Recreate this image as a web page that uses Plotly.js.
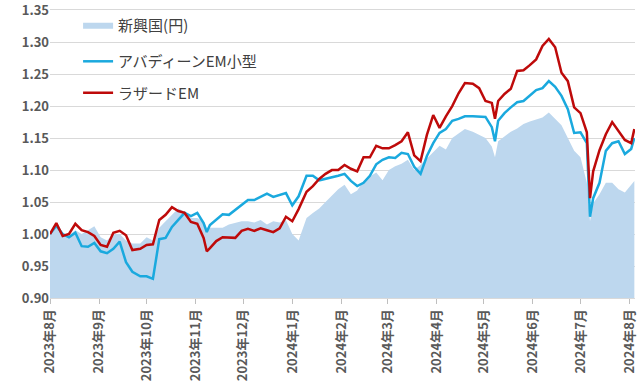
<!DOCTYPE html>
<html>
<head>
<meta charset="utf-8">
<script src="https://cdn.plot.ly/plotly-3.0.1.min.js"></script>
<style>html,body{margin:0;padding:0;background:#fff;}#chart{width:640px;height:390px;}</style>
</head>
<body>
<div id="chart"></div>
<script>
const dates = [
"2023-08-01","2023-08-05","2023-08-09","2023-08-13","2023-08-17","2023-08-21","2023-08-25","2023-08-29",
"2023-09-02","2023-09-06","2023-09-10","2023-09-14","2023-09-18","2023-09-22","2023-09-27","2023-10-01",
"2023-10-05","2023-10-09","2023-10-13","2023-10-17","2023-10-21","2023-10-25","2023-10-29",
"2023-11-02","2023-11-06","2023-11-08","2023-11-10","2023-11-14","2023-11-18","2023-11-22","2023-11-26","2023-11-30",
"2023-12-04","2023-12-08","2023-12-12","2023-12-16","2023-12-20","2023-12-24","2023-12-28","2024-01-01",
"2024-01-05","2024-01-10","2024-01-14","2024-01-18","2024-01-22","2024-01-26","2024-01-30",
"2024-02-03","2024-02-07","2024-02-11","2024-02-15","2024-02-19","2024-02-23","2024-02-27","2024-03-02",
"2024-03-06","2024-03-10","2024-03-14","2024-03-18","2024-03-22","2024-03-26","2024-03-30",
"2024-04-03","2024-04-07","2024-04-11","2024-04-15","2024-04-19","2024-04-24","2024-04-28","2024-05-02",
"2024-05-06","2024-05-08","2024-05-10","2024-05-14","2024-05-18","2024-05-22","2024-05-26","2024-05-30","2024-06-03",
"2024-06-07","2024-06-11","2024-06-15","2024-06-19","2024-06-23","2024-06-27","2024-07-01",
"2024-07-05","2024-07-07","2024-07-09","2024-07-13","2024-07-17","2024-07-21","2024-07-25","2024-07-29","2024-08-02",
"2024-08-04"
];

const emergingYen = [
1.000,1.012,1.000,0.998,1.006,1.000,1.006,1.012,
0.995,0.990,1.000,1.000,0.990,0.985,0.985,0.995,
0.990,1.010,1.020,1.030,1.040,1.035,1.025,
1.025,1.020,1.010,1.010,1.010,1.010,1.015,1.018,1.020,
1.020,1.018,1.022,1.015,1.020,1.018,1.022,1.000,
0.990,1.025,1.033,1.040,1.050,1.060,1.070,
1.077,1.062,1.068,1.083,1.090,1.096,1.084,1.100,
1.106,1.110,1.116,1.100,1.108,1.118,1.127,
1.138,1.132,1.150,1.157,1.164,1.160,1.155,1.150,
1.137,1.120,1.145,1.153,1.160,1.165,1.172,1.176,1.179,
1.182,1.190,1.180,1.170,1.150,1.130,1.120,
1.080,1.020,1.048,1.062,1.080,1.080,1.070,1.065,1.078,
1.083
];

const aberdeenEMSmall = [
1.000,1.013,1.000,0.995,1.002,0.981,0.980,0.986,
0.973,0.970,0.977,0.988,0.956,0.941,0.934,0.934,
0.930,0.992,0.994,1.011,1.022,1.033,1.028,
1.033,1.017,1.003,1.014,1.023,1.031,1.030,1.038,1.045,
1.053,1.053,1.058,1.063,1.058,1.061,1.064,1.045,
1.059,1.091,1.091,1.084,1.086,1.089,1.091,
1.094,1.083,1.075,1.080,1.091,1.109,1.116,1.120,
1.119,1.127,1.125,1.105,1.094,1.122,1.142,
1.158,1.164,1.177,1.180,1.184,1.184,1.184,1.183,
1.167,1.145,1.177,1.189,1.198,1.206,1.208,1.217,1.225,
1.228,1.239,1.230,1.216,1.195,1.158,1.159,
1.142,1.027,1.056,1.080,1.130,1.142,1.145,1.125,1.133,
1.150
];

const lazardEM = [
1.000,1.017,0.997,1.000,1.016,1.006,1.003,0.997,
0.983,0.980,1.002,1.005,0.998,0.975,0.977,0.983,
0.984,1.022,1.030,1.042,1.036,1.033,1.019,
1.016,0.994,0.973,0.978,0.989,0.995,0.994,0.994,1.005,
1.008,1.005,1.009,1.006,1.003,1.009,1.027,1.020,
1.039,1.066,1.075,1.086,1.094,1.100,1.100,
1.108,1.102,1.098,1.120,1.120,1.138,1.134,1.134,
1.139,1.145,1.159,1.123,1.114,1.155,1.186,
1.166,1.184,1.200,1.220,1.236,1.235,1.228,1.208,
1.205,1.180,1.208,1.219,1.227,1.255,1.256,1.264,1.273,
1.294,1.305,1.292,1.252,1.239,1.198,1.189,
1.159,1.056,1.098,1.131,1.156,1.175,1.161,1.147,1.142,
1.164
];

const seriesNames = ["新興国(円)", "アバディーンEM小型", "ラザードEM"];

const monthTicks = ["2023-08-01","2023-09-01","2023-10-01","2023-11-01","2023-12-01","2024-01-01",
  "2024-02-01","2024-03-01","2024-04-01","2024-05-01","2024-06-01","2024-07-01","2024-08-01"];
const monthLabels = ["2023年8月","2023年9月","2023年10月","2023年11月","2023年12月","2024年1月",
  "2024年2月","2024年3月","2024年4月","2024年5月","2024年6月","2024年7月","2024年8月"];
const yTicks = [0.90, 0.95, 1.00, 1.05, 1.10, 1.15, 1.20, 1.25, 1.30, 1.35];

const FONT = '"Noto Sans CJK JP", "Noto Sans", sans-serif';

const traces = [
  {x: dates, y: emergingYen, name: seriesNames[0], type: 'scatter', mode: 'lines',
   fill: 'tozeroy', fillcolor: '#BDD7EE', line: {width: 0, color: '#BDD7EE'}, legend: 'legend'},
  {x: dates, y: aberdeenEMSmall, name: seriesNames[1], type: 'scatter', mode: 'lines',
   line: {width: 2.5, color: '#1AA9DE'}, legend: 'legend2'},
  {x: dates, y: lazardEM, name: seriesNames[2], type: 'scatter', mode: 'lines',
   line: {width: 2.5, color: '#BE0A0A'}, legend: 'legend3'}
];

const legBase = {xanchor: 'left', yanchor: 'middle', bgcolor: 'rgba(0,0,0,0)',
  font: {family: FONT, size: 15, color: '#404040'}};

const layout = {
  width: 640, height: 390,
  margin: {l: 50, r: 5, t: 10, b: 92},
  paper_bgcolor: '#fff', plot_bgcolor: '#fff',
  font: {family: FONT, color: '#595959'},
  showlegend: true,
  legend: Object.assign({x: 0.048, y: 0.948}, legBase),
  legend2: Object.assign({x: 0.048, y: 0.821}, legBase),
  legend3: Object.assign({x: 0.048, y: 0.712}, legBase),
  xaxis: {
    type: 'date', range: ['2023-08-01', '2024-08-04 10:00'],
    tickmode: 'array', tickvals: monthTicks, ticktext: monthLabels,
    tickangle: -90, ticks: 'outside', ticklen: 5, tickcolor: '#BFBFBF',
    ticklabeloverflow: 'allow',
    showgrid: false, showline: true, mirror: true, linecolor: '#D9D9D9',
    tickfont: {family: FONT, size: 13, color: '#595959', weight: 'bold'},
    fixedrange: true
  },
  yaxis: {
    range: [0.90, 1.3502], tickmode: 'array', tickvals: yTicks,
    tickformat: '.2f', ticklabeloverflow: 'allow',
    showgrid: true, gridcolor: '#D9D9D9', gridwidth: 1, zeroline: false,
    ticks: '', showline: false,
    tickfont: {family: FONT, size: 13, color: '#595959', weight: 'bold'},
    fixedrange: true
  }
};

Plotly.newPlot('chart', traces, layout, {staticPlot: true, displayModeBar: false});
</script>
</body>
</html>
